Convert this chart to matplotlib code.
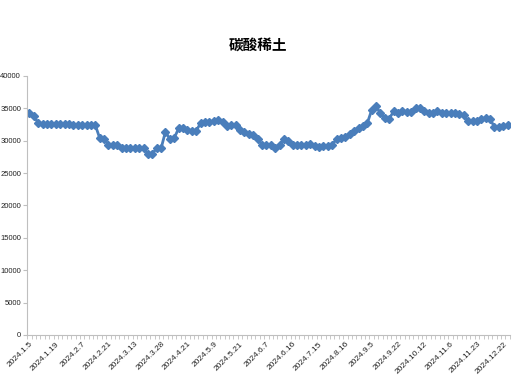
import matplotlib.pyplot as plt
import numpy as np

plt.rcParams['font.family'] = ['Liberation Sans', 'Noto Sans CJK SC', 'DejaVu Sans']

title = '碳酸稀土'

values = [
    34200, 33800, 32700, 32500, 32500, 32500, 32500, 32500, 32500, 32500,
    32400, 32400, 32400, 32400, 32400, 32400, 30400, 30200, 29400, 29400,
    29400, 28800, 28800, 28800, 28800, 28800, 28800, 28000, 28000, 28800,
    28800, 31400, 30200, 30400, 31900, 31900, 31600, 31500, 31500, 32700,
    32800, 32900, 33000, 33200, 32900, 32300, 32400, 32400, 31700, 31300,
    31000, 30800, 30300, 29400, 29400, 29400, 28900, 29400, 30200, 29900,
    29400, 29400, 29400, 29400, 29500, 29100, 29000, 29100, 29200, 29400,
    30200, 30400, 30600, 31000, 31500, 31900, 32300, 32700, 34700, 35300,
    34200, 33500, 33400, 34500, 34200, 34600, 34400, 34400, 35100, 35000,
    34600, 34300, 34300, 34500, 34300, 34300, 34300, 34200, 34100, 33900,
    33000, 33000, 33100, 33400, 33500, 33300, 32100, 32100, 32300, 32400,
]

date_labels = ['2024.1.5', '2024.1.19', '2024.2.7', '2024.2.21', '2024.3.13',
               '2024.3.28', '2024.4.21', '2024.5.9', '2024.5.21', '2024.6.7',
               '2024.6.16', '2024.7.15', '2024.8.16', '2024.9.5', '2024.9.22',
               '2024.10.12', '2024.11.6', '2024.11.23', '2024.12.22']
label_step = 6

color = '#4a7ebb'
axis_color = '#bfbfbf'

fig = plt.figure(figsize=(5.15, 3.89), dpi=100)
ax = fig.add_axes([0.053, 0.139, 0.937, 0.666])

x = np.arange(len(values))
ax.plot(x, values, color=color, lw=2, marker='D', ms=3.6, mec=color, mfc=color)

ax.set_xlim(-0.5, len(values) - 0.5)
ax.set_ylim(0, 40000)
ax.set_yticks(np.arange(0, 40001, 5000))
ax.tick_params(axis='y', labelsize=5.5, length=3, color=axis_color, pad=1.5,
               labelcolor='#222222')

ax.set_xticks(np.arange(0, len(date_labels) * label_step, label_step))
ax.set_xticklabels(date_labels, rotation=45, ha='right', rotation_mode='anchor',
                   fontsize=6, color='#222222')
ax.set_xticks(np.arange(-0.5, len(values), 1), minor=True)
ax.tick_params(axis='x', which='major', length=0, pad=4)
ax.tick_params(axis='x', which='minor', length=3, color=axis_color)

for s in ['top', 'right']:
    ax.spines[s].set_visible(False)
for s in ['left', 'bottom']:
    ax.spines[s].set_color(axis_color)

fig.text(0.5, 0.885, title, ha='center', va='center', fontsize=10.5,
         fontweight='bold', family=['Noto Sans CJK SC', 'DejaVu Sans'])

fig.savefig('out.png', dpi=100)
